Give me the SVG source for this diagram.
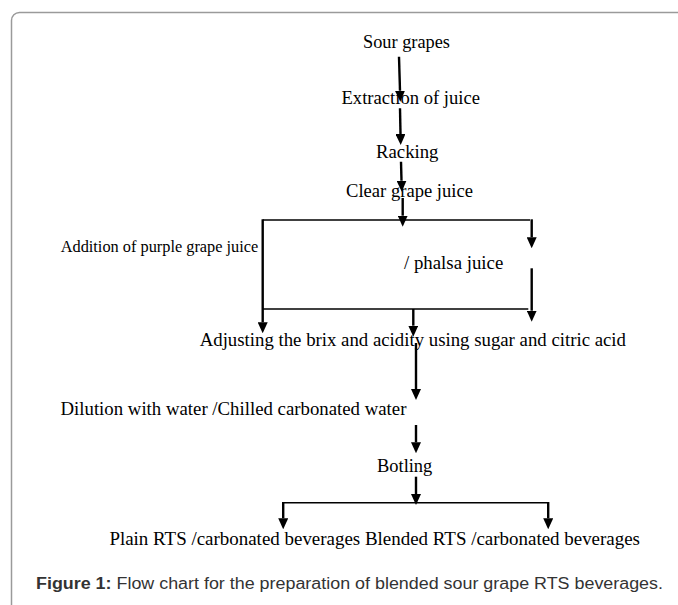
<svg xmlns="http://www.w3.org/2000/svg" width="678" height="605" viewBox="0 0 678 605">
<defs>
<style>
.t{font-family:"Liberation Serif","Times New Roman",serif;font-size:18.5px;fill:#000}
.ts{font-family:"Liberation Serif","Times New Roman",serif;font-size:17.5px;fill:#000}
.cap{font-family:"Liberation Sans",Arial,sans-serif;font-size:16px;fill:#333}
.a{stroke:#000;stroke-width:2.4;fill:none;marker-end:url(#ah)}
.h{stroke:#000;stroke-width:1.5;fill:none}
</style>
<marker id="ah" markerUnits="userSpaceOnUse" markerWidth="11" markerHeight="10" refX="0" refY="5" orient="auto">
<path d="M0,0 L11,5 L0,10 z" fill="#000"/>
</marker>
</defs>
<rect x="11.5" y="12.5" width="700" height="620" rx="8" ry="8" fill="#fff" stroke="#9a9a9a" stroke-width="1.5"/>
<g id="connectors">
<line class="a" x1="399" y1="56.7" x2="400" y2="90.7"/>
<line class="a" x1="400" y1="108.3" x2="400.5" y2="134"/>
<line class="a" x1="401" y1="161.7" x2="401.5" y2="180.7"/>
<line class="a" x1="402.7" y1="198" x2="402.7" y2="215.7"/>
<line class="h" x1="262.7" y1="220" x2="530" y2="220"/>
<line class="h" x1="262.7" y1="309" x2="528.3" y2="309"/>
<line class="a" x1="262.7" y1="219.3" x2="262.7" y2="322.3"/>
<line class="a" x1="531.7" y1="219.3" x2="531.7" y2="237.3"/>
<line class="a" x1="531.7" y1="268.3" x2="531.7" y2="310.7"/>
<line class="a" x1="413.3" y1="309" x2="413.3" y2="325.7"/>
<line class="a" x1="416" y1="343" x2="416" y2="389"/>
<line class="a" x1="416" y1="425" x2="416" y2="442.3"/>
<line class="a" x1="416" y1="476.7" x2="416" y2="494"/>
<line class="h" x1="283.2" y1="502.7" x2="548.2" y2="502.7"/>
<line class="a" x1="283.2" y1="502" x2="283.2" y2="518.3"/>
<line class="a" x1="548.2" y1="502" x2="548.2" y2="518.3"/>
</g>
<g id="n1"><text class="t" x="363" y="48.3" textLength="87" lengthAdjust="spacingAndGlyphs">Sour grapes</text></g>
<g id="n2"><text class="t" x="341.5" y="103.5" textLength="138.5" lengthAdjust="spacingAndGlyphs">Extraction of juice</text></g>
<g id="n3"><text class="t" x="376" y="158.3" textLength="62.5" lengthAdjust="spacingAndGlyphs">Racking</text></g>
<g id="n4"><text class="t" x="346" y="197.3" textLength="127" lengthAdjust="spacingAndGlyphs">Clear grape juice</text></g>
<g id="n5"><text class="ts" x="60.7" y="251.7" textLength="197.6" lengthAdjust="spacingAndGlyphs">Addition of purple grape juice</text></g>
<g id="n6"><text class="t" x="404" y="269.3" textLength="99.3" lengthAdjust="spacingAndGlyphs">/ phalsa juice</text></g>
<g id="n7"><text class="t" x="199.7" y="346" textLength="426.3" lengthAdjust="spacingAndGlyphs">Adjusting the brix and acidity using sugar and citric acid</text></g>
<g id="n8"><text class="t" x="60.5" y="415" textLength="345.9" lengthAdjust="spacingAndGlyphs">Dilution with water /Chilled carbonated water</text></g>
<g id="n9"><text class="t" x="377" y="471.7" textLength="55.3" lengthAdjust="spacingAndGlyphs">Botling</text></g>
<g id="n10"><text class="t" x="109.4" y="545" textLength="530.6" lengthAdjust="spacingAndGlyphs">Plain RTS /carbonated beverages Blended RTS /carbonated beverages</text></g>
<g id="caption"><text class="cap" x="36" y="589" textLength="627" lengthAdjust="spacingAndGlyphs"><tspan font-weight="bold">Figure 1:</tspan> Flow chart for the preparation of blended sour grape RTS beverages.</text></g>
</svg>
